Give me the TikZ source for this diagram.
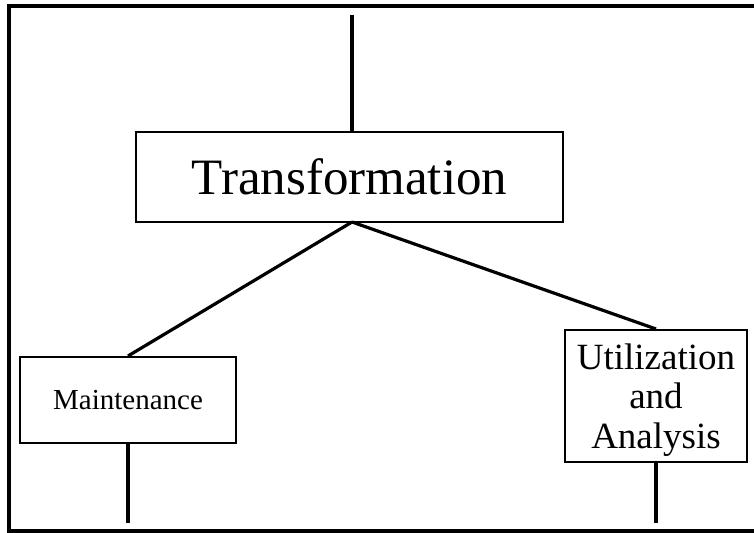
\documentclass[tikz,border=0pt]{standalone}
\usepackage{fontspec}
\setmainfont{Liberation Serif}
\begin{document}
\begin{tikzpicture}[x=1bp,y=-1bp,
  box/.style={draw=black,line width=2bp,rectangle,inner sep=0pt,align=center},
  link/.style={draw=black,line width=3.2bp},
  frame/.style={draw=black,line width=3.5bp}]
\useasboundingbox (0,0) rectangle (754,533);
% outer frame (right side open at picture edge)
\draw[frame] (754,6) -- (9,6) -- (9,531) -- (754,531);
% boxes
\node[box,minimum width=427bp,minimum height=90bp,font=\fontsize{51bp}{56bp}\selectfont] (T) at (349.5,177) {Transformation};
\node[box,minimum width=216bp,minimum height=86bp,font=\fontsize{29bp}{33bp}\selectfont] (M) at (128,400) {Maintenance};
\node[box,minimum width=182bp,minimum height=132bp,text depth=0pt,font=\fontsize{37bp}{39.5bp}\selectfont] (U) at (656,396) {Utilization\\and\\Analysis};
% free ends
\coordinate (top) at (352,15);
\coordinate (mb) at (128,523);
\coordinate (ub) at (656,523);
\coordinate (j) at (352,222);
% connectors
\draw[link] (top) -- (T.north -| top);
\draw[link] (j) -- (M.north);
\draw[link] (j) -- (U.north);
\draw[link] (M.south) -- (mb);
\draw[link] (U.south) -- (ub);
\end{tikzpicture}
\end{document}
